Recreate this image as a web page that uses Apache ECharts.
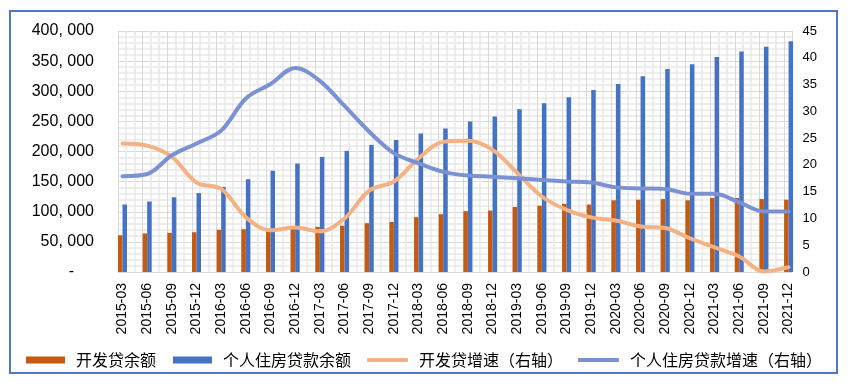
<!DOCTYPE html>
<html><head><meta charset="utf-8">
<script src="https://cdn.jsdelivr.net/npm/echarts@6/dist/echarts.min.js"></script>
<style>html,body{margin:0;padding:0;background:#fff}#c{width:849px;height:386px}</style>
</head><body><div id="c"></div>
<script>
const categories = ['2015-03','2015-06','2015-09','2015-12','2016-03','2016-06','2016-09','2016-12',
  '2017-03','2017-06','2017-09','2017-12','2018-03','2018-06','2018-09','2018-12',
  '2019-03','2019-06','2019-09','2019-12','2020-03','2020-06','2020-09','2020-12',
  '2021-03','2021-06','2021-09','2021-12'];
const devLoanBalance = [61000,64000,65000,66000,70000,71000,72000,74000,75000,77000,81000,83000,91000,96000,
  101000,102000,108000,110000,113000,112000,119000,120000,121000,119000,123000,123000,121000,120000];
const mortgageBalance = [112000,117000,124000,131000,141000,154000,168000,180000,191000,201000,211000,219000,
  230000,238000,250000,258000,270000,280000,290000,302000,312000,325000,337000,345000,357000,366000,374000,383000];
const devLoanGrowth = [24.0,23.6,21.5,16.7,15.5,10.2,7.8,8.3,7.6,10.0,15.2,16.9,21.2,24.3,24.5,22.8,
  18.5,14.1,11.6,10.2,9.6,8.5,8.2,6.3,4.6,2.9,0.1,0.9];
const mortgageGrowth = [17.9,18.3,21.8,24.0,26.4,32.4,35.1,38.1,35.7,31.0,26.2,22.2,20.3,18.7,18.0,17.8,
  17.5,17.2,16.9,16.7,15.8,15.6,15.5,14.6,14.6,13.0,11.3,11.3];
const leftTicks = {min:0, max:400000, interval:50000};
const rightTicks = {min:0, max:45, interval:5};
const names = ['开发贷余额','个人住房贷款余额','开发贷增速（右轴）','个人住房贷款增速（右轴）'];
const colors = ['#C55A11','#4472C4','#F4B183','#7A91D4'];

const chart = echarts.init(document.getElementById('c'));
const W = 849, H = 386;
const catCount = categories.length;
const step = 24.67;
const plotLeft = 118, plotRight = 792, plotTop = 31, plotBottom = 272;
const firstX = plotLeft + 4.5, lastX = firstX + step * (catCount - 1);
const CJK = '"Noto Sans CJK SC", sans-serif';
const LAT = '"Liberation Sans", Arial, sans-serif';

function leftFmt(v){
  if (v === 0) return '{d|-}';
  return String(v).replace(/\B(?=(\d{3})+(?!\d))/g, ', ');
}
function mkLegend(name, left, w, h, icon){
  return {data:[name], left:left, top:347, itemWidth:w, itemHeight:h, icon:icon, itemGap:0,
    textStyle:{fontSize:16, color:'#000', fontFamily:CJK, padding:[0,0,0,6]}, selectedMode:false};
}
const option = {
  animation:false,
  grid:[
    {left:plotLeft, right:W-plotRight, top:plotTop, bottom:H-plotBottom},
    {left:firstX, right:W-lastX, top:plotTop, bottom:H-plotBottom}
  ],
  xAxis:[
    {gridIndex:0, type:'value', min:0, max:(plotRight-plotLeft)/step, interval:1,
      axisLine:{show:false}, axisTick:{show:false}, axisLabel:{show:false},
      splitLine:{show:true, lineStyle:{color:'#d9d9d9', width:1}},
      minorTick:{show:false, splitNumber:3},
      minorSplitLine:{show:true, lineStyle:{color:'#e9e9e9', width:1.5}}},
    {gridIndex:1, type:'category', data:categories, boundaryGap:false,
      axisLine:{show:false}, axisTick:{show:false}, splitLine:{show:false},
      axisLabel:{rotate:90, margin:11, fontSize:14, color:'#000', fontFamily:LAT, interval:0}}
  ],
  yAxis:[
    {gridIndex:0, type:'value', min:leftTicks.min, max:leftTicks.max, interval:leftTicks.interval,
      axisLine:{show:false}, axisTick:{show:false},
      axisLabel:{fontSize:16, color:'#000', fontFamily:LAT, margin:24, formatter:leftFmt,
        rich:{d:{fontSize:16, color:'#000', fontFamily:LAT, padding:[0,20,0,0]}}},
      splitLine:{show:true, lineStyle:{color:'#d9d9d9', width:1}},
      minorTick:{show:false, splitNumber:5},
      minorSplitLine:{show:true, lineStyle:{color:'#e9e9e9', width:1.5}}},
    {gridIndex:1, type:'value', min:leftTicks.min, max:leftTicks.max, interval:leftTicks.interval, show:false},
    {gridIndex:1, type:'value', position:'right', min:rightTicks.min, max:rightTicks.max, interval:rightTicks.interval,
      axisLine:{show:false}, axisTick:{show:false}, splitLine:{show:false},
      axisLabel:{fontSize:13, color:'#000', fontFamily:LAT, margin:14}}
  ],
  legend:[
    mkLegend(names[0], 21, 39, 7, 'rect'),
    mkLegend(names[1], 168, 39, 7, 'rect'),
    mkLegend(names[2], 362, 41, 4, 'roundRect'),
    mkLegend(names[3], 573, 41, 4, 'roundRect')
  ],
  graphic:[{type:'rect', shape:{x:10, y:11, width:827, height:362},
    style:{fill:'none', stroke:'#4E79C8', lineWidth:2}, silent:true}],
  series:[
    {name:names[0], type:'bar', xAxisIndex:1, yAxisIndex:1, data:devLoanBalance, barWidth:4.5, barGap:'0%',
      itemStyle:{color:colors[0]}},
    {name:names[1], type:'bar', xAxisIndex:1, yAxisIndex:1, data:mortgageBalance, barWidth:4.5, barGap:'0%',
      itemStyle:{color:colors[1]}},
    {name:names[2], type:'line', xAxisIndex:1, yAxisIndex:2, data:devLoanGrowth, smooth:0.35, symbol:'none',
      lineStyle:{width:4, color:colors[2], cap:'round'}, itemStyle:{color:colors[2]}},
    {name:names[3], type:'line', xAxisIndex:1, yAxisIndex:2, data:mortgageGrowth, smooth:0.35, symbol:'none',
      lineStyle:{width:4, color:colors[3], cap:'round'}, itemStyle:{color:colors[3]}}
  ]
};
chart.setOption(option);
</script></body></html>
